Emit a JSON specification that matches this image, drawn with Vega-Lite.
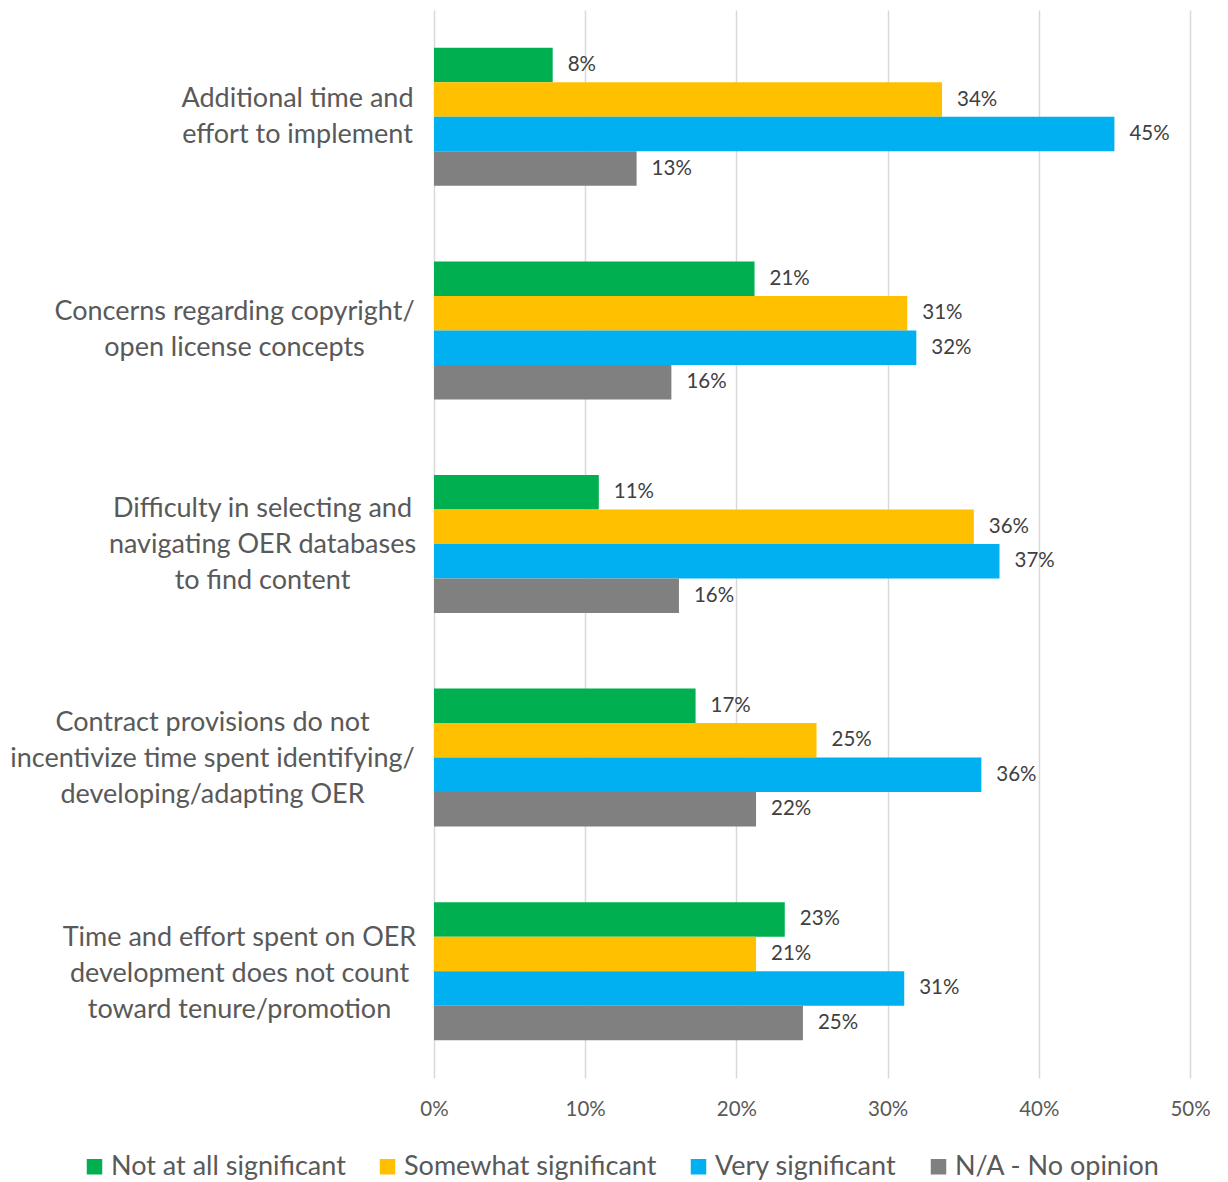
{
  "$schema": "https://vega.github.io/schema/vega-lite/v6.json",
  "width": 756,
  "height": 1068,
  "autosize": "none",
  "padding": {"left": 434, "top": 10, "right": 38, "bottom": 104},
  "background": "white",
  "config": {"view": {"stroke": null}, "font": "Lato"},
  "data": {
    "values": [
      {"barrier": "Additional time and|effort to implement", "level": "Not at all significant", "pct": 0.0785, "label": "8%"},
      {"barrier": "Additional time and|effort to implement", "level": "Somewhat significant", "pct": 0.336, "label": "34%"},
      {"barrier": "Additional time and|effort to implement", "level": "Very significant", "pct": 0.450, "label": "45%"},
      {"barrier": "Additional time and|effort to implement", "level": "N/A - No opinion", "pct": 0.134, "label": "13%"},
      {"barrier": "Concerns regarding copyright/|open license concepts", "level": "Not at all significant", "pct": 0.212, "label": "21%"},
      {"barrier": "Concerns regarding copyright/|open license concepts", "level": "Somewhat significant", "pct": 0.313, "label": "31%"},
      {"barrier": "Concerns regarding copyright/|open license concepts", "level": "Very significant", "pct": 0.319, "label": "32%"},
      {"barrier": "Concerns regarding copyright/|open license concepts", "level": "N/A - No opinion", "pct": 0.157, "label": "16%"},
      {"barrier": "Difficulty in selecting and|navigating OER databases|to find content", "level": "Not at all significant", "pct": 0.109, "label": "11%"},
      {"barrier": "Difficulty in selecting and|navigating OER databases|to find content", "level": "Somewhat significant", "pct": 0.357, "label": "36%"},
      {"barrier": "Difficulty in selecting and|navigating OER databases|to find content", "level": "Very significant", "pct": 0.374, "label": "37%"},
      {"barrier": "Difficulty in selecting and|navigating OER databases|to find content", "level": "N/A - No opinion", "pct": 0.162, "label": "16%"},
      {"barrier": "Contract provisions do not|incentivize time spent identifying/|developing/adapting OER", "level": "Not at all significant", "pct": 0.173, "label": "17%"},
      {"barrier": "Contract provisions do not|incentivize time spent identifying/|developing/adapting OER", "level": "Somewhat significant", "pct": 0.253, "label": "25%"},
      {"barrier": "Contract provisions do not|incentivize time spent identifying/|developing/adapting OER", "level": "Very significant", "pct": 0.362, "label": "36%"},
      {"barrier": "Contract provisions do not|incentivize time spent identifying/|developing/adapting OER", "level": "N/A - No opinion", "pct": 0.213, "label": "22%"},
      {"barrier": "Time and effort spent on OER|development does not count|toward tenure/promotion", "level": "Not at all significant", "pct": 0.232, "label": "23%"},
      {"barrier": "Time and effort spent on OER|development does not count|toward tenure/promotion", "level": "Somewhat significant", "pct": 0.213, "label": "21%"},
      {"barrier": "Time and effort spent on OER|development does not count|toward tenure/promotion", "level": "Very significant", "pct": 0.311, "label": "31%"},
      {"barrier": "Time and effort spent on OER|development does not count|toward tenure/promotion", "level": "N/A - No opinion", "pct": 0.244, "label": "25%"}
    ]
  },
  "encoding": {
    "y": {
      "field": "barrier",
      "type": "nominal",
      "sort": null,
      "scale": {"paddingInner": 0.354, "paddingOuter": 0.177},
      "axis": {
        "title": null,
        "ticks": false,
        "domain": false,
        "labelExpr": "split(datum.label, '|')",
        "labelAlign": "center",
        "labelBaseline": "middle",
        "labelFontSize": 27,
        "labelLineHeight": 36,
        "labelColor": "#595959",
        "labelLimit": 0,
        "labelOffset": {
          "condition": [
            {"test": "indexof(datum.value, 'Additional') == 0", "value": -18},
            {"test": "indexof(datum.value, 'Concerns') == 0", "value": -18},
            {"test": "indexof(datum.value, 'Time') == 0", "value": -33}
          ],
          "value": -35
        },
        "labelPadding": {
          "condition": [
            {"test": "indexof(datum.value, 'Additional') == 0", "value": 137},
            {"test": "indexof(datum.value, 'Concerns') == 0", "value": 200},
            {"test": "indexof(datum.value, 'Difficulty') == 0", "value": 172},
            {"test": "indexof(datum.value, 'Contract') == 0", "value": 222}
          ],
          "value": 195
        }
      }
    },
    "yOffset": {
      "field": "level",
      "type": "nominal",
      "sort": ["Not at all significant", "Somewhat significant", "Very significant", "N/A - No opinion"],
      "scale": {"paddingInner": 0, "paddingOuter": 0}
    },
    "x": {
      "field": "pct",
      "type": "quantitative",
      "scale": {"domain": [0, 0.5], "nice": false},
      "axis": {
        "title": null,
        "format": ".0%",
        "values": [0, 0.1, 0.2, 0.3, 0.4, 0.5],
        "ticks": false,
        "domain": false,
        "grid": true,
        "gridColor": "#d9d9d9",
        "gridWidth": 1.5,
        "labelFlush": false,
        "labelFontSize": 20.5,
        "labelColor": "#595959",
        "labelPadding": 21
      }
    }
  },
  "layer": [
    {
      "mark": {"type": "bar"},
      "encoding": {
        "color": {
          "field": "level",
          "type": "nominal",
          "scale": {
            "domain": ["Not at all significant", "Somewhat significant", "Very significant", "N/A - No opinion"],
            "range": ["#00b050", "#ffc000", "#00b0f0", "#808080"]
          },
          "legend": {
            "title": null,
            "orient": "none",
            "direction": "horizontal",
            "columns": 4,
            "legendX": -353,
            "legendY": 1143,
            "symbolType": "square",
            "symbolSize": 240,
            "symbolStrokeWidth": 0,
            "labelFontSize": 27,
            "labelColor": "#595959",
            "labelOffset": 3,
            "columnPadding": 28,
            "labelLimit": 0
          }
        }
      }
    },
    {
      "mark": {"type": "text", "align": "left", "baseline": "middle", "dx": 15, "fontSize": 20.5, "color": "#404040"},
      "encoding": {"text": {"field": "label"}}
    }
  ]
}
